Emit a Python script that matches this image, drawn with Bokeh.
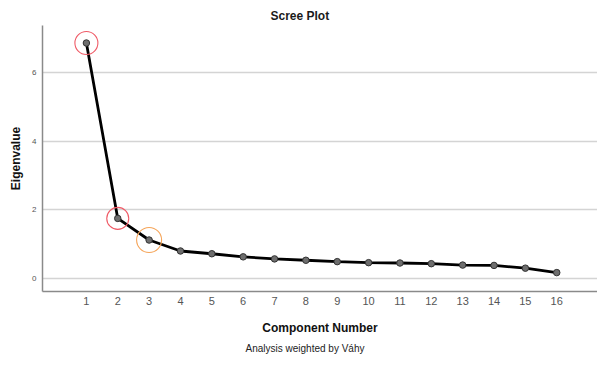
from bokeh.plotting import figure
from bokeh.models import ColumnDataSource, Title, FixedTicker, Range1d
from bokeh.embed import file_html
from bokeh.resources import INLINE

components = list(range(1, 17))
eigenvalues = [6.86, 1.75, 1.12, 0.80, 0.72, 0.63, 0.57, 0.53, 0.49, 0.46, 0.45, 0.43, 0.39, 0.38, 0.30, 0.17]
marked_components = [1, 2, 3]
marked_values = [6.86, 1.75, 1.12]
marked_colors = ["#ef5a66", "#ef5a66", "#f5a55a"]
marked_sizes = [23, 22, 25]
y_ticks = [0, 2, 4, 6]

FONT = "Liberation Sans"

p = figure(width=597, height=357, output_backend="svg", toolbar_location=None,
           x_range=Range1d(-0.4, 17.3), y_range=Range1d(-0.38, 7.37),
           min_border_left=42, min_border_right=0, min_border_top=25, min_border_bottom=0)
p.outline_line_color = None
p.background_fill_color = "white"

p.title.text = "Scree Plot"
p.title.align = "left"
p.title.offset = 228
p.title.text_font = FONT
p.title.text_font_size = "12px"
p.title.text_font_style = "bold"
p.title.text_color = "#1a1a1a"
p.title.standoff = 5

foot = Title(text="Analysis weighted by V\u00e1hy", align="left", offset=203, text_font=FONT,
             text_font_size="10px", text_font_style="normal", text_color="#222222", standoff=7)
p.add_layout(foot, "below")

src = ColumnDataSource(dict(x=components, y=eigenvalues))
p.line("x", "y", source=src, line_color="black", line_width=2.8)
p.scatter("x", "y", source=src, size=6.5, fill_color="#6e6e6e", line_color="#333333", line_width=1)

msrc = ColumnDataSource(dict(x=marked_components, y=marked_values, c=marked_colors, s=marked_sizes))
p.scatter("x", "y", source=msrc, size="s", fill_alpha=0, line_color="c", line_width=1.1)

p.xgrid.visible = False
p.ygrid.ticker = FixedTicker(ticks=y_ticks)
p.ygrid.grid_line_color = "#d4d4d4"
p.ygrid.grid_line_width = 1.5

p.xaxis.ticker = FixedTicker(ticks=components)
p.yaxis.ticker = FixedTicker(ticks=y_ticks)
for ax in (p.xaxis[0], p.yaxis[0]):
    ax.major_tick_line_color = None
    ax.minor_tick_line_color = None
    ax.major_tick_out = 0
    ax.major_tick_in = 0
    ax.minor_tick_out = 0
    ax.minor_tick_in = 0
    ax.axis_line_color = "#8a8a8a"
    ax.axis_line_width = 1.5
    ax.axis_label_text_font = FONT
    ax.axis_label_text_font_style = "bold"
    ax.axis_label_text_color = "#111111"
    ax.major_label_text_font = FONT
    ax.major_label_text_color = "#555555"

p.xaxis.axis_label = "Component Number"
p.xaxis.axis_label_text_font_size = "12px"
p.xaxis.major_label_text_font_size = "11px"
p.xaxis.major_label_standoff = 5
p.xaxis.axis_label_standoff = 13

p.yaxis.axis_label = "Eigenvalue"
p.yaxis.axis_label_text_font_size = "12px"
p.yaxis.major_label_text_font_size = "8px"
p.yaxis.major_label_standoff = 6
p.yaxis.axis_label_standoff = 6

open("out.html", "w").write(file_html(p, INLINE))
